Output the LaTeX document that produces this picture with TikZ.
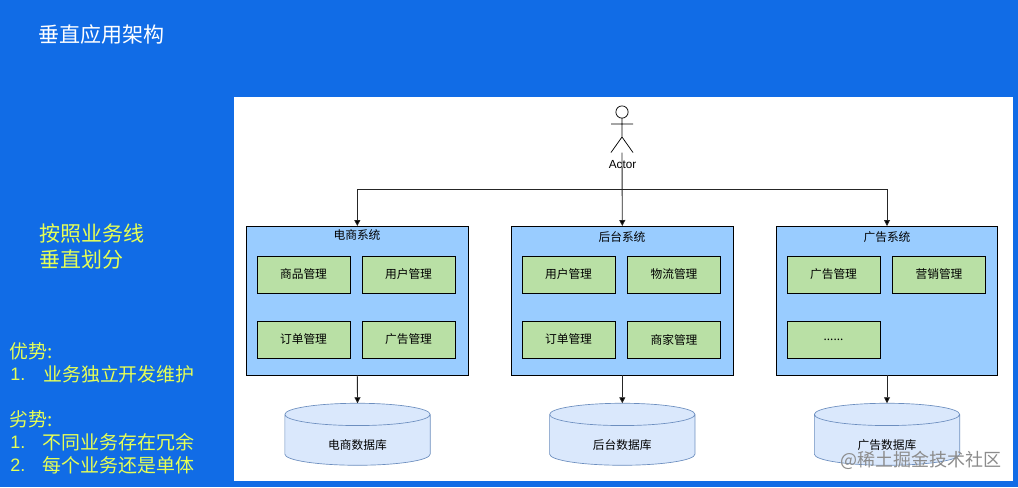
\documentclass[tikz,border=0pt]{standalone}
\usepackage{fontspec}
\setmainfont{Noto Sans CJK SC}
\newfontfamily\latinf{Liberation Sans}
\usetikzlibrary{shapes.geometric,arrows.meta}
\definecolor{bgblue}{HTML}{116CE6}
\definecolor{sysblue}{HTML}{99CCFF}
\definecolor{modgreen}{HTML}{B9E0A5}
\definecolor{dbfill}{HTML}{DAE8FC}
\definecolor{dbline}{HTML}{6C8EBF}
\definecolor{sidey}{HTML}{E6FF55}
\tikzset{
  x=0.75pt,y=-0.75pt,
  sysbox/.style={draw=black,line width=0.55pt,fill=sysblue,minimum width=166pt,minimum height=111.75pt,inner sep=0pt,outer sep=0pt},
  modbox/.style={draw=black,line width=0.55pt,fill=modgreen,minimum width=69.75pt,minimum height=27.75pt,inner sep=0pt,outer sep=0pt,font=\fontsize{8.8pt}{10pt}\selectfont},
  systitle/.style={font=\fontsize{8.8pt}{10pt}\selectfont,inner sep=0pt},
  dbshape/.style={cylinder,shape border rotate=90,aspect=0.38,draw=dbline,line width=0.5pt,fill=dbfill,minimum width=109pt,minimum height=46.5pt,inner sep=0pt,outer sep=0pt,font=\fontsize{8.8pt}{10pt}\selectfont},
  dbtext/.style={font=\fontsize{8.8pt}{10pt}\selectfont,inner sep=0pt},
  conn/.style={draw=black!85,line width=0.65pt,-{Triangle[length=4.5pt,width=4.5pt,fill=black]}},
  sidetext/.style={text=sidey,anchor=west,inner sep=0pt,font=\fontsize{14.2pt}{16pt}\selectfont},
  numtext/.style={text=sidey,anchor=west,inner sep=0pt,font=\latinf\fontsize{13.5pt}{16pt}\selectfont},
  bigtext/.style={text=sidey,anchor=west,inner sep=0pt,font=\fontsize{15.75pt}{18pt}\selectfont},
}
\begin{document}
\begin{tikzpicture}
\useasboundingbox (0,0) rectangle (1018,487);
\fill[bgblue] (0,0) rectangle (1018,487);
\fill[white] (234,96.5) rectangle (1013,481);

\node[anchor=west,text=white,inner sep=0pt,font=\fontsize{15.75pt}{18pt}\selectfont] (title) at (38.5,35) {垂直应用架构};
\node[bigtext] (side1) at (39.5,234) {按照业务线};
\node[bigtext] (side2) at (39.5,260) {垂直划分};
\node[sidetext] (adv) at (9.5,351) {优势:};
\node[numtext] (adv1n) at (10,374) {1.};
\node[sidetext] (adv1) at (43,374) {业务独立开发维护};
\node[sidetext] (dis) at (9.5,419) {劣势:};
\node[numtext] (dis1n) at (10,442) {1.};
\node[sidetext] (dis1) at (42.5,442) {不同业务存在冗余};
\node[numtext] (dis2n) at (10,465) {2.};
\node[sidetext] (dis2) at (42.5,465) {每个业务还是单体};

% actor
\coordinate (head) at (622,112);
\draw[line width=0.55pt,fill=white] (head) circle (4.6pt);
\draw[line width=0.55pt] (622,118) -- (622,137) (611,124) -- (633,124) (611,152.5) -- (622,137) -- (633,152.5);
\coordinate (actorbot) at (622,152.5);
\node[inner sep=0pt,font=\latinf\fontsize{8.8pt}{10pt}\selectfont] (actor) at (622.5,165) {Actor};
\coordinate (split) at (622,189);

% systems
\node[sysbox] (s1) at (357.3,300.5) {};
\node[sysbox] (s2) at (622.3,300.5) {};
\node[sysbox] (s3) at (887,300.5) {};
\node[systitle] (s1t) at (357,234.5) {电商系统};
\node[systitle] (s2t) at (622,237) {后台系统};
\node[systitle] (s3t) at (887,237) {广告系统};

\node[modbox] (m11) at (303.5,274.5) {商品管理};
\node[modbox] (m12) at (408.5,274.5) {用户管理};
\node[modbox] (m13) at (303.5,339.5) {订单管理};
\node[modbox] (m14) at (408.5,339.5) {广告管理};
\node[modbox] (m21) at (568.5,274.5) {用户管理};
\node[modbox] (m22) at (674,274.5) {物流管理};
\node[modbox] (m23) at (568.5,339.5) {订单管理};
\node[modbox] (m24) at (674,339.5) {商家管理};
\node[modbox] (m31) at (833.5,274.5) {广告管理};
\node[modbox] (m32) at (939,274.5) {营销管理};
\node[modbox] (m33) at (833.5,339.5) {......};

% databases
\node[dbshape] (d1) at (357.5,440) {\phantom{电商数据库}};
\node[dbshape] (d2) at (622.3,440) {\phantom{后台数据库}};
\node[dbshape] (d3) at (887,440) {\phantom{广告数据库}};
\node[dbtext] (d1t) at (357.5,445) {电商数据库};
\node[dbtext] (d2t) at (622.3,445) {后台数据库};
\node[dbtext] (d3t) at (887,445) {广告数据库};

% connectors
\draw[conn] (actorbot) -- (s2.north);
\draw[conn] (split) -| (s1.north);
\draw[conn] (split) -| (s3.north);
\draw[conn] (s1.south) -- (d1.top);
\draw[conn] (s2.south) -- (d2.top);
\draw[conn] (s3.south) -- (d3.top);

\node[anchor=east,inner sep=0pt,text=black!45,font=\fontsize{13.5pt}{16pt}\selectfont] (mark) at (1002,460) {@稀土掘金技术社区};
\end{tikzpicture}
\end{document}
